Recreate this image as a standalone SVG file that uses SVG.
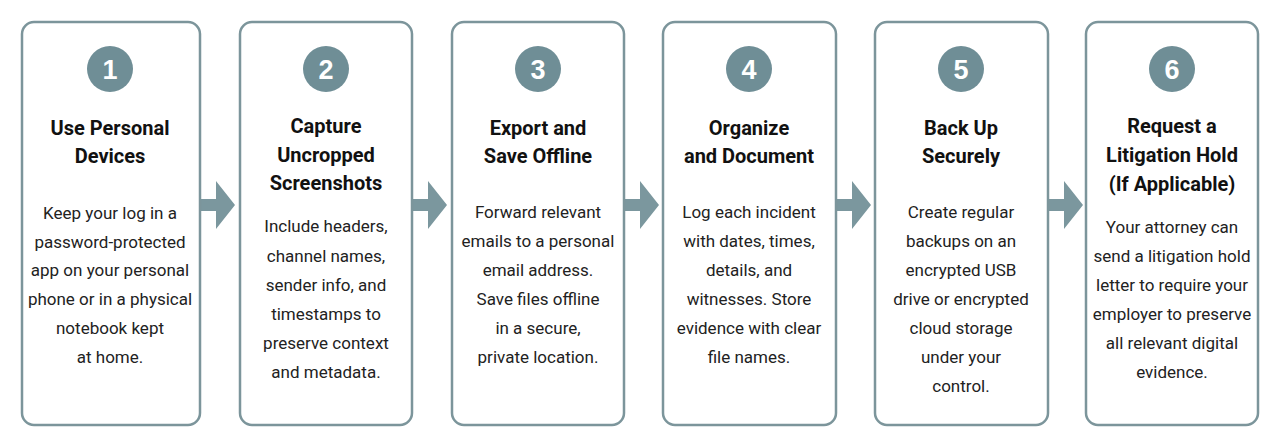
<svg xmlns="http://www.w3.org/2000/svg" width="1280" height="447" viewBox="0 0 1280 447">
<style>
.box{fill:#fff;stroke:#7c959b;stroke-width:2.5}
.num{fill:#6f8e96}
.n{font-family:"Liberation Sans",Arial,sans-serif;font-weight:bold;font-size:27px;fill:#fff;text-anchor:middle}
.t{font-family:Roboto,"Liberation Sans",sans-serif;font-weight:bold;font-size:20px;fill:#111;text-anchor:middle}
.b{font-family:Roboto,"Liberation Sans",sans-serif;font-size:17px;fill:#222;text-anchor:middle}
.arr{fill:#7b979e}
</style>
<rect width="1280" height="447" fill="#fff"/>
<g id="connectors">
<path class="arr" d="M200,199h16v-18l19,24l-19,24v-18h-16z"/>
<path class="arr" d="M412,199h16v-18l19,24l-19,24v-18h-16z"/>
<path class="arr" d="M624,199h16v-18l19,24l-19,24v-18h-16z"/>
<path class="arr" d="M836,199h16v-18l19,24l-19,24v-18h-16z"/>
<path class="arr" d="M1048,199h16v-18l19,24l-19,24v-18h-16z"/>
</g>
<g id="step1">
<rect class="box" x="22" y="22" width="178" height="403" rx="12"/>
<circle class="num" cx="110" cy="69" r="23"/><text class="n" x="110" y="79">1</text>
<text class="t" x="110" y="135">Use Personal</text><text class="t" x="110" y="163">Devices</text>
<text class="b" x="110" y="219">Keep your log in a</text><text class="b" x="110" y="248">password-protected</text><text class="b" x="110" y="276">app on your personal</text><text class="b" x="110" y="305">phone or in a physical</text><text class="b" x="110" y="334">notebook kept</text><text class="b" x="110" y="363">at home.</text>
</g>
<g id="step2">
<rect class="box" x="240" y="22" width="172" height="403" rx="12"/>
<circle class="num" cx="326" cy="69" r="23"/><text class="n" x="326" y="79">2</text>
<text class="t" x="326" y="133">Capture</text><text class="t" x="326" y="162">Uncropped</text><text class="t" x="326" y="190">Screenshots</text>
<text class="b" x="326" y="232">Include headers,</text><text class="b" x="326" y="262">channel names,</text><text class="b" x="326" y="291">sender info, and</text><text class="b" x="326" y="320">timestamps to</text><text class="b" x="326" y="349">preserve context</text><text class="b" x="326" y="378">and metadata.</text>
</g>
<g id="step3">
<rect class="box" x="452" y="22" width="172" height="403" rx="12"/>
<circle class="num" cx="538" cy="69" r="23"/><text class="n" x="538" y="79">3</text>
<text class="t" x="538" y="135">Export and</text><text class="t" x="538" y="163">Save Offline</text>
<text class="b" x="538" y="218">Forward relevant</text><text class="b" x="538" y="247">emails to a personal</text><text class="b" x="538" y="276">email address.</text><text class="b" x="538" y="305">Save files offline</text><text class="b" x="538" y="334">in a secure,</text><text class="b" x="538" y="363">private location.</text>
</g>
<g id="step4">
<rect class="box" x="663" y="22" width="173" height="403" rx="12"/>
<circle class="num" cx="749" cy="69" r="23"/><text class="n" x="749" y="79">4</text>
<text class="t" x="749" y="135">Organize</text><text class="t" x="749" y="163">and Document</text>
<text class="b" x="749" y="218">Log each incident</text><text class="b" x="749" y="247">with dates, times,</text><text class="b" x="749" y="276">details, and</text><text class="b" x="749" y="305">witnesses.  Store</text><text class="b" x="749" y="334">evidence with clear</text><text class="b" x="749" y="363">file names.</text>
</g>
<g id="step5">
<rect class="box" x="875" y="22" width="173" height="403" rx="12"/>
<circle class="num" cx="961" cy="69" r="23"/><text class="n" x="961" y="79">5</text>
<text class="t" x="961" y="135">Back Up</text><text class="t" x="961" y="163">Securely</text>
<text class="b" x="961" y="218">Create regular</text><text class="b" x="961" y="247">backups on an</text><text class="b" x="961" y="276">encrypted USB</text><text class="b" x="961" y="305">drive or encrypted</text><text class="b" x="961" y="334">cloud storage</text><text class="b" x="961" y="363">under your</text><text class="b" x="961" y="392">control.</text>
</g>
<g id="step6">
<rect class="box" x="1086" y="22" width="172" height="403" rx="12"/>
<circle class="num" cx="1172" cy="69" r="23"/><text class="n" x="1172" y="79">6</text>
<text class="t" x="1172" y="133">Request a</text><text class="t" x="1172" y="162">Litigation Hold</text><text class="t" x="1172" y="191">(If Applicable)</text>
<text class="b" x="1172" y="233">Your attorney can</text><text class="b" x="1172" y="262">send a litigation hold</text><text class="b" x="1172" y="291">letter to require your</text><text class="b" x="1172" y="320">employer to preserve</text><text class="b" x="1172" y="349">all relevant digital</text><text class="b" x="1172" y="378">evidence.</text>
</g>
</svg>
